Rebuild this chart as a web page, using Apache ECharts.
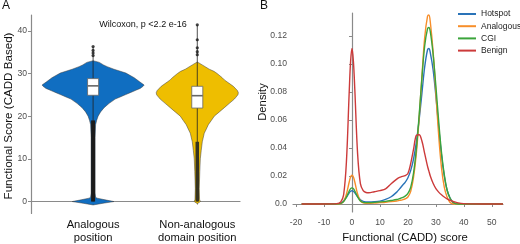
<!DOCTYPE html>
<html>
<head>
<meta charset="utf-8">
<script src="https://cdn.jsdelivr.net/npm/echarts@6/dist/echarts.min.js"></script>
<style>
  html, body { margin: 0; padding: 0; background: #fff; }
  #chart { width: 520px; height: 244px; }
</style>
</head>
<body>
<div id="chart"></div>
<script>
// ---- panel A : violins ----
var violinCats = ['Analogous\nposition', 'Non-analogous\ndomain position'];
var violinPos = [1, 2];
var violinColors = ['#106EC1', '#EEBE00'];

// score value / half width (in category units)
var analogousY    = [33.0, 32.6, 32.0, 31.6, 31.0, 30.1, 29.0, 28.0, 27.3, 27.0, 26.5, 26.0, 25.5, 25.0, 24.5, 24.0, 23.0, 22.0, 21.0, 20.0, 19.0, 18.0, 15.0, 10.0, 5.0, 2.0, 1.0, 0.8, 0.4, 0.0, -0.4, -0.8];
var analogousHalf = [0.0, 0.06, 0.10, 0.135, 0.20, 0.315, 0.395, 0.45, 0.49, 0.48, 0.452, 0.404, 0.356, 0.308, 0.26, 0.212, 0.154, 0.106, 0.072, 0.048, 0.034, 0.024, 0.019, 0.019, 0.019, 0.019, 0.024, 0.038, 0.115, 0.2, 0.096, 0.0];

var nonAnalogousY    = [32.7, 32.0, 31.0, 30.5, 30.0, 29.0, 28.5, 28.0, 27.0, 26.0, 25.5, 25.0, 24.0, 23.0, 22.0, 21.0, 20.0, 19.0, 18.0, 17.0, 16.0, 14.0, 12.0, 10.0, 7.0, 3.0, 0.5, 0.0, -0.5];
var nonAnalogousHalf = [0.0, 0.048, 0.115, 0.16, 0.19, 0.24, 0.26, 0.288, 0.346, 0.385, 0.394, 0.39, 0.356, 0.308, 0.26, 0.212, 0.163, 0.135, 0.106, 0.087, 0.067, 0.048, 0.038, 0.029, 0.024, 0.019, 0.022, 0.03, 0.0];

var violinY = [analogousY, nonAnalogousY];
var violinHalf = [analogousHalf, nonAnalogousHalf];

// q1, median, q3
var boxStats = [[24.9, 27.1, 28.8], [21.9, 24.8, 27.0]];
var whiskerRange = [[0, 36.3], [0, 41.4]];
var denseOutlierRange = [[0, 19], [0, 14]];
var outliersA = [34.2, 34.8, 35.4, 36.3];
var outliersB = [34.4, 35.1, 36.0, 37.9, 41.4];
var scoreTicks = [0, 10, 20, 30, 40];

// ---- panel B : densities ----
var densNames = ['Hotspot', 'Analogous', 'CGI', 'Benign'];
var densColors = ['#2A73B8', '#F78E2A', '#3BA43B', '#CC3A3A'];
var densX = [-18, -6, -5, -4, -3, -2, -1, -0.5, 0, 0.5, 1, 2, 3, 4, 5, 6, 8, 10, 12, 14, 16, 17, 18, 19, 20, 21, 22, 23, 24, 25, 26, 27, 27.5, 28, 29, 30, 31, 32, 33, 34, 35, 36, 37, 38, 40, 42, 54];
var hotspot   = [0, 0, 0.0001, 0.0006, 0.0022, 0.0048, 0.0080, 0.0091, 0.0095, 0.0091, 0.0080, 0.0052, 0.0030, 0.0019, 0.0015, 0.0014, 0.0016, 0.0021, 0.0033, 0.0052, 0.0085, 0.0108, 0.0132, 0.0155, 0.0188, 0.024, 0.032, 0.044, 0.060, 0.079, 0.098, 0.110, 0.111, 0.108, 0.096, 0.077, 0.055, 0.035, 0.020, 0.010, 0.0045, 0.0015, 0.0003, 0, 0, 0, 0];
var analogous = [0, 0, 0, 0.0003, 0.0018, 0.0070, 0.0157, 0.0193, 0.0205, 0.0193, 0.0157, 0.0072, 0.0022, 0.0008, 0.0005, 0.0005, 0.0007, 0.0010, 0.0013, 0.0017, 0.0022, 0.0026, 0.0030, 0.0036, 0.0050, 0.0090, 0.019, 0.036, 0.061, 0.091, 0.119, 0.134, 0.135, 0.130, 0.109, 0.079, 0.049, 0.026, 0.012, 0.005, 0.0013, 0.0002, 0, 0, 0, 0, 0];
var cgi       = [0, 0, 0.0001, 0.0005, 0.0017, 0.0049, 0.0093, 0.0110, 0.0115, 0.0110, 0.0093, 0.0052, 0.0022, 0.0012, 0.0010, 0.0010, 0.0012, 0.0015, 0.0019, 0.0025, 0.0032, 0.0038, 0.0045, 0.0056, 0.0076, 0.012, 0.022, 0.039, 0.063, 0.090, 0.113, 0.125, 0.126, 0.123, 0.107, 0.084, 0.059, 0.037, 0.021, 0.010, 0.0045, 0.0015, 0.0003, 0, 0, 0, 0];
var benign    = [0, 0.0001, 0.0004, 0.0015, 0.0065, 0.030, 0.080, 0.102, 0.111, 0.102, 0.082, 0.036, 0.0145, 0.0095, 0.0082, 0.0080, 0.0088, 0.0096, 0.0108, 0.0145, 0.0178, 0.0190, 0.0197, 0.0203, 0.0218, 0.029, 0.039, 0.049, 0.0495, 0.045, 0.036, 0.027, 0.0235, 0.020, 0.0148, 0.011, 0.0085, 0.0066, 0.0050, 0.0037, 0.0027, 0.0020, 0.0013, 0.0008, 0.0003, 0.0001, 0];
var densValues = [hotspot, analogous, cgi, benign];
var cadTicks = [-20, -10, 0, 10, 20, 30, 40, 50];
var densTicks = [0, 0.02, 0.04, 0.06, 0.08, 0.10, 0.12];

var FONT = '"Liberation Sans", Arial, sans-serif';
var axisGrey = '#8a8a8a';

var myChart = echarts.init(document.getElementById('chart'));

var densSeries = densNames.map(function (name, i) {
    return {
        name: name,
        type: 'line',
        xAxisIndex: 1,
        yAxisIndex: 1,
        symbol: 'none',
        smooth: 0.35,
        lineStyle: { color: densColors[i], width: 1.4 },
        itemStyle: { color: densColors[i] },
        data: densX.map(function (x, k) { return [x, densValues[i][k]]; }),
        z: 3
    };
});

var outlierData = outliersA.map(function (v) { return [violinPos[0], v]; })
    .concat(outliersB.map(function (v) { return [violinPos[1], v]; }));

var option = {
    animation: false,
    textStyle: { fontFamily: FONT },
    grid: [
        { left: 31, top: 15, width: 209, height: 199 },
        { left: 293, top: 13, width: 210, height: 199 }
    ],
    xAxis: [{
        gridIndex: 0,
        type: 'value',
        min: 0.404,
        max: 2.41,
        splitLine: { show: false },
        axisLine: { lineStyle: { color: axisGrey, width: 1.2 } },
        axisTick: { customValues: violinPos, length: 3, lineStyle: { color: axisGrey } },
        axisLabel: {
            customValues: violinPos,
            formatter: function (v) { return violinCats[Math.round(v) - 1]; },
            fontSize: 11.2,
            lineHeight: 13,
            margin: 4.5,
            color: '#111',
            fontFamily: FONT
        }
    }, {
        gridIndex: 1,
        type: 'value',
        min: -21.1,
        max: 54,
        splitLine: { show: false },
        axisLine: { lineStyle: { color: axisGrey, width: 1.2 } },
        axisTick: { customValues: cadTicks, length: 3, lineStyle: { color: axisGrey } },
        axisLabel: { customValues: cadTicks, fontSize: 8.6, margin: 6, color: '#4d4d4d', fontFamily: FONT }
    }],
    yAxis: [{
        gridIndex: 0,
        type: 'value',
        min: -2.8,
        max: 43.7,
        splitLine: { show: false },
        axisLine: { show: true, lineStyle: { color: axisGrey, width: 1.2 } },
        axisTick: { show: true, customValues: scoreTicks, length: 3, lineStyle: { color: axisGrey } },
        axisLabel: { customValues: scoreTicks, fontSize: 8.6, margin: 4, color: '#4d4d4d', fontFamily: FONT }
    }, {
        gridIndex: 1,
        type: 'value',
        min: -0.0057,
        max: 0.1364,
        splitLine: { show: false },
        axisLine: { show: true, lineStyle: { color: axisGrey, width: 1.2 } },
        axisTick: { show: true, customValues: densTicks, length: 3, lineStyle: { color: axisGrey } },
        axisLabel: {
            customValues: densTicks,
            fontSize: 8.6,
            margin: 6,
            color: '#4d4d4d',
            fontFamily: FONT,
            formatter: function (v) { return v === 0 ? '0.0' : v.toFixed(2); }
        }
    }],
    legend: {
        data: densNames,
        orient: 'vertical',
        left: 458,
        top: 9,
        padding: 0,
        icon: 'rect',
        itemWidth: 18,
        itemHeight: 2,
        itemGap: 2.2,
        textStyle: { fontSize: 8.5, lineHeight: 10, color: '#222', fontFamily: FONT }
    },
    graphic: [
        { type: 'text', left: 2, top: 0, style: { text: 'A', fontSize: 12, fill: '#111', fontFamily: FONT } },
        { type: 'text', left: 260, top: 0, style: { text: 'B', fontSize: 12, fill: '#111', fontFamily: FONT } },
        { type: 'text', x: 143, y: 25, style: { text: 'Wilcoxon, p <2.2 e-16', fontSize: 9, fill: '#111', fontFamily: FONT, align: 'center', verticalAlign: 'middle' } },
        { type: 'text', x: 8.5, y: 116, rotation: Math.PI / 2, style: { text: 'Functional Score (CADD Based)', fontSize: 11.6, fill: '#111', fontFamily: FONT, align: 'center', verticalAlign: 'middle' } },
        { type: 'text', x: 263, y: 102, rotation: Math.PI / 2, style: { text: 'Density', fontSize: 11.3, fill: '#111', fontFamily: FONT, align: 'center', verticalAlign: 'middle' } },
        { type: 'text', x: 405, y: 238, style: { text: 'Functional (CADD) score', fontSize: 11.3, fill: '#111', fontFamily: FONT, align: 'center', verticalAlign: 'middle' } }
    ],
    series: [{
        // violins
        type: 'custom',
        xAxisIndex: 0,
        yAxisIndex: 0,
        data: [[1, 0], [2, 0]],
        renderItem: function (params, api) {
            var i = params.dataIndex;
            var ys = violinY[i], hs = violinHalf[i], c = violinPos[i];
            var pts = [];
            for (var k = 0; k < ys.length; k++) pts.push(api.coord([c + hs[k], ys[k]]));
            for (var k2 = ys.length - 1; k2 >= 0; k2--) pts.push(api.coord([c - hs[k2], ys[k2]]));
            return {
                type: 'polygon',
                shape: { points: pts },
                style: { fill: violinColors[i], stroke: '#3a3a3a', lineWidth: 0.5 }
            };
        },
        z: 2
    }, {
        // whiskers and dense low outliers
        type: 'custom',
        xAxisIndex: 0,
        yAxisIndex: 0,
        data: [[1, 0], [2, 0]],
        renderItem: function (params, api) {
            var i = params.dataIndex, c = violinPos[i];
            var w0 = api.coord([c, whiskerRange[i][0]]), w1 = api.coord([c, whiskerRange[i][1]]);
            var d0 = api.coord([c, denseOutlierRange[i][0]]), d1 = api.coord([c, denseOutlierRange[i][1]]);
            return {
                type: 'group',
                children: [{
                    type: 'line',
                    shape: { x1: w0[0], y1: w0[1], x2: w1[0], y2: w1[1] },
                    style: { stroke: '#222', lineWidth: 0.8 }
                }, {
                    type: 'line',
                    shape: { x1: d0[0], y1: d0[1], x2: d1[0], y2: d1[1] },
                    style: { stroke: i === 0 ? '#1b1b1b' : '#35331f', lineWidth: i === 0 ? 4 : 3.5 }
                }]
            };
        },
        z: 3
    }, {
        // boxes
        type: 'custom',
        xAxisIndex: 0,
        yAxisIndex: 0,
        data: [[1, 0], [2, 0]],
        renderItem: function (params, api) {
            var i = params.dataIndex, c = violinPos[i], b = boxStats[i];
            var tl = api.coord([c - 0.053, b[2]]), br = api.coord([c + 0.053, b[0]]);
            var m0 = api.coord([c - 0.053, b[1]]), m1 = api.coord([c + 0.053, b[1]]);
            return {
                type: 'group',
                children: [{
                    type: 'rect',
                    shape: { x: tl[0], y: tl[1], width: br[0] - tl[0], height: br[1] - tl[1] },
                    style: { fill: '#fff', stroke: '#666', lineWidth: 0.8 }
                }, {
                    type: 'line',
                    shape: { x1: m0[0], y1: m0[1], x2: m1[0], y2: m1[1] },
                    style: { stroke: '#666', lineWidth: 1.6 }
                }]
            };
        },
        z: 4
    }, {
        type: 'scatter',
        xAxisIndex: 0,
        yAxisIndex: 0,
        symbolSize: 3.2,
        itemStyle: { color: '#1a1a1a' },
        data: outlierData,
        z: 5
    }].concat(densSeries)
};

myChart.setOption(option);
</script>
</body>
</html>
